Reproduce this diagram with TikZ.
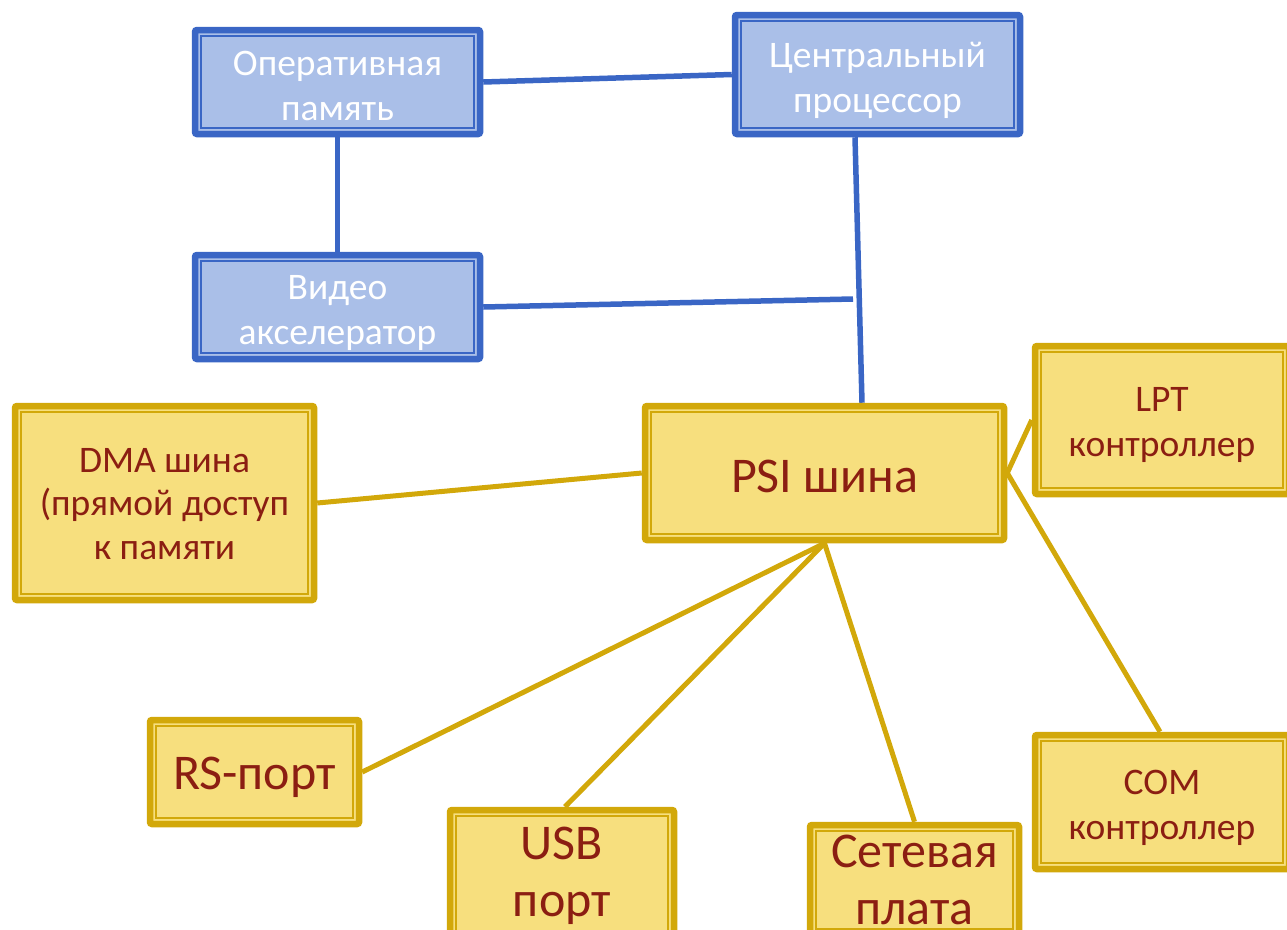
\documentclass[tikz,border=0pt]{standalone}
\usepackage{fontspec}
\setmainfont{Carlito}
\usetikzlibrary{backgrounds}
\definecolor{bborder}{HTML}{3A66C5}
\definecolor{bfill}{HTML}{AABFE8}
\definecolor{yborder}{HTML}{D2A80A}
\definecolor{yfill}{HTML}{F7DF7E}
\definecolor{ytext}{HTML}{8B1E12}
\tikzset{
  dbox/.style={rectangle, rounded corners=2pt, line width=6.5pt, inner sep=0pt,
    path picture={\draw[line width=1.3pt, sharp corners]
      ([shift={(6pt,-6pt)}]path picture bounding box.north west) rectangle
      ([shift={(-6pt,6pt)}]path picture bounding box.south east);}},
  bluebox/.style={dbox, draw=bborder, fill=bfill},
  yelbox/.style={dbox, draw=yborder, fill=yfill},
  smalltext/.style={font=\fontsize{37.5}{45}\selectfont},
  bigtext/.style={font=\fontsize{50}{57}\selectfont},
  wtxt/.style={text=white, align=center, inner sep=0pt, smalltext},
  rtxt/.style={text=ytext, align=center, inner sep=0pt},
  bline/.style={draw=bborder, line width=5.5pt},
  yline/.style={draw=yborder, line width=5pt},
}
\begin{document}
\begin{tikzpicture}[x=1pt,y=-1pt]
\useasboundingbox (0,0) rectangle (1287,929);
\clip (0,0) rectangle (1287,929);
% blue boxes
\node[bluebox, minimum width=285pt, minimum height=104pt,
  label={[name=opt, wtxt, yshift=-3.5pt]center:{Оперативная\\память}}] (op) at (337.5,82) {};
\node[bluebox, minimum width=285pt, minimum height=119pt,
  label={[name=cpt, wtxt, yshift=-5.5pt]center:{Центральный\\процессор}}] (cp) at (877.5,74.5) {};
\node[bluebox, minimum width=285pt, minimum height=104pt,
  label={[name=vidt, wtxt, yshift=-6pt]center:{Видео\\акселератор}}] (vid) at (337.5,307) {};
% yellow boxes
\node[yelbox, minimum width=359pt, minimum height=134pt,
  label={[name=psit, rtxt, bigtext, yshift=-3pt]center:{PSI шина}}] (psi) at (824.5,473) {};
\node[yelbox, minimum width=254pt, minimum height=148pt,
  label={[name=lptt, rtxt, smalltext, yshift=-4.5pt]center:{LPT\\контроллер}}] (lpt) at (1162,420) {};
\node[yelbox, minimum width=254pt, minimum height=134pt,
  label={[name=comt, rtxt, smalltext, yshift=-5.5pt]center:{COM\\контроллер}}] (com) at (1162,802) {};
\node[yelbox, minimum width=299pt, minimum height=194pt,
  label={[name=dmat, rtxt, font=\fontsize{37.5}{43.5}\selectfont, yshift=-1pt]center:{DMA шина\\(прямой доступ\\к памяти}}] (dma) at (164.5,503) {};
\node[yelbox, minimum width=209pt, minimum height=104pt,
  label={[name=rst, rtxt, bigtext, yshift=-5pt]center:{RS-порт}}] (rs) at (254.5,772) {};
\node[yelbox, minimum width=224pt, minimum height=128pt,
  label={[name=usbt, rtxt, bigtext, yshift=-2pt]center:{USB\\порт}}] (usb) at (562,874) {};
\node[yelbox, minimum width=209pt, minimum height=110pt,
  label={[name=nett, rtxt, bigtext]center:{Сетевая\\плата}}] (net) at (914.5,880) {};
\coordinate (vend) at (853,299);
\begin{scope}[on background layer]
\draw[bline] (op.east) -- (cp.west);
\draw[bline] (op.south) -- (vid.north);
\draw[bline] ([xshift=-22.5pt]cp.south) -- ([xshift=37.5pt]psi.north);
\draw[bline] (vid.east) -- (vend);
\draw[yline] (dma.east) -- (psi.west);
\draw[yline] (psi.east) -- (lpt.west);
\draw[yline] (psi.east) -- ([xshift=-2pt]com.north);
\draw[yline] (psi.south) -- (rs.east);
\draw[yline] (psi.south) -- ([xshift=3pt]usb.north);
\draw[yline] (psi.south) -- (net.north);
\end{scope}
\end{tikzpicture}
\end{document}
